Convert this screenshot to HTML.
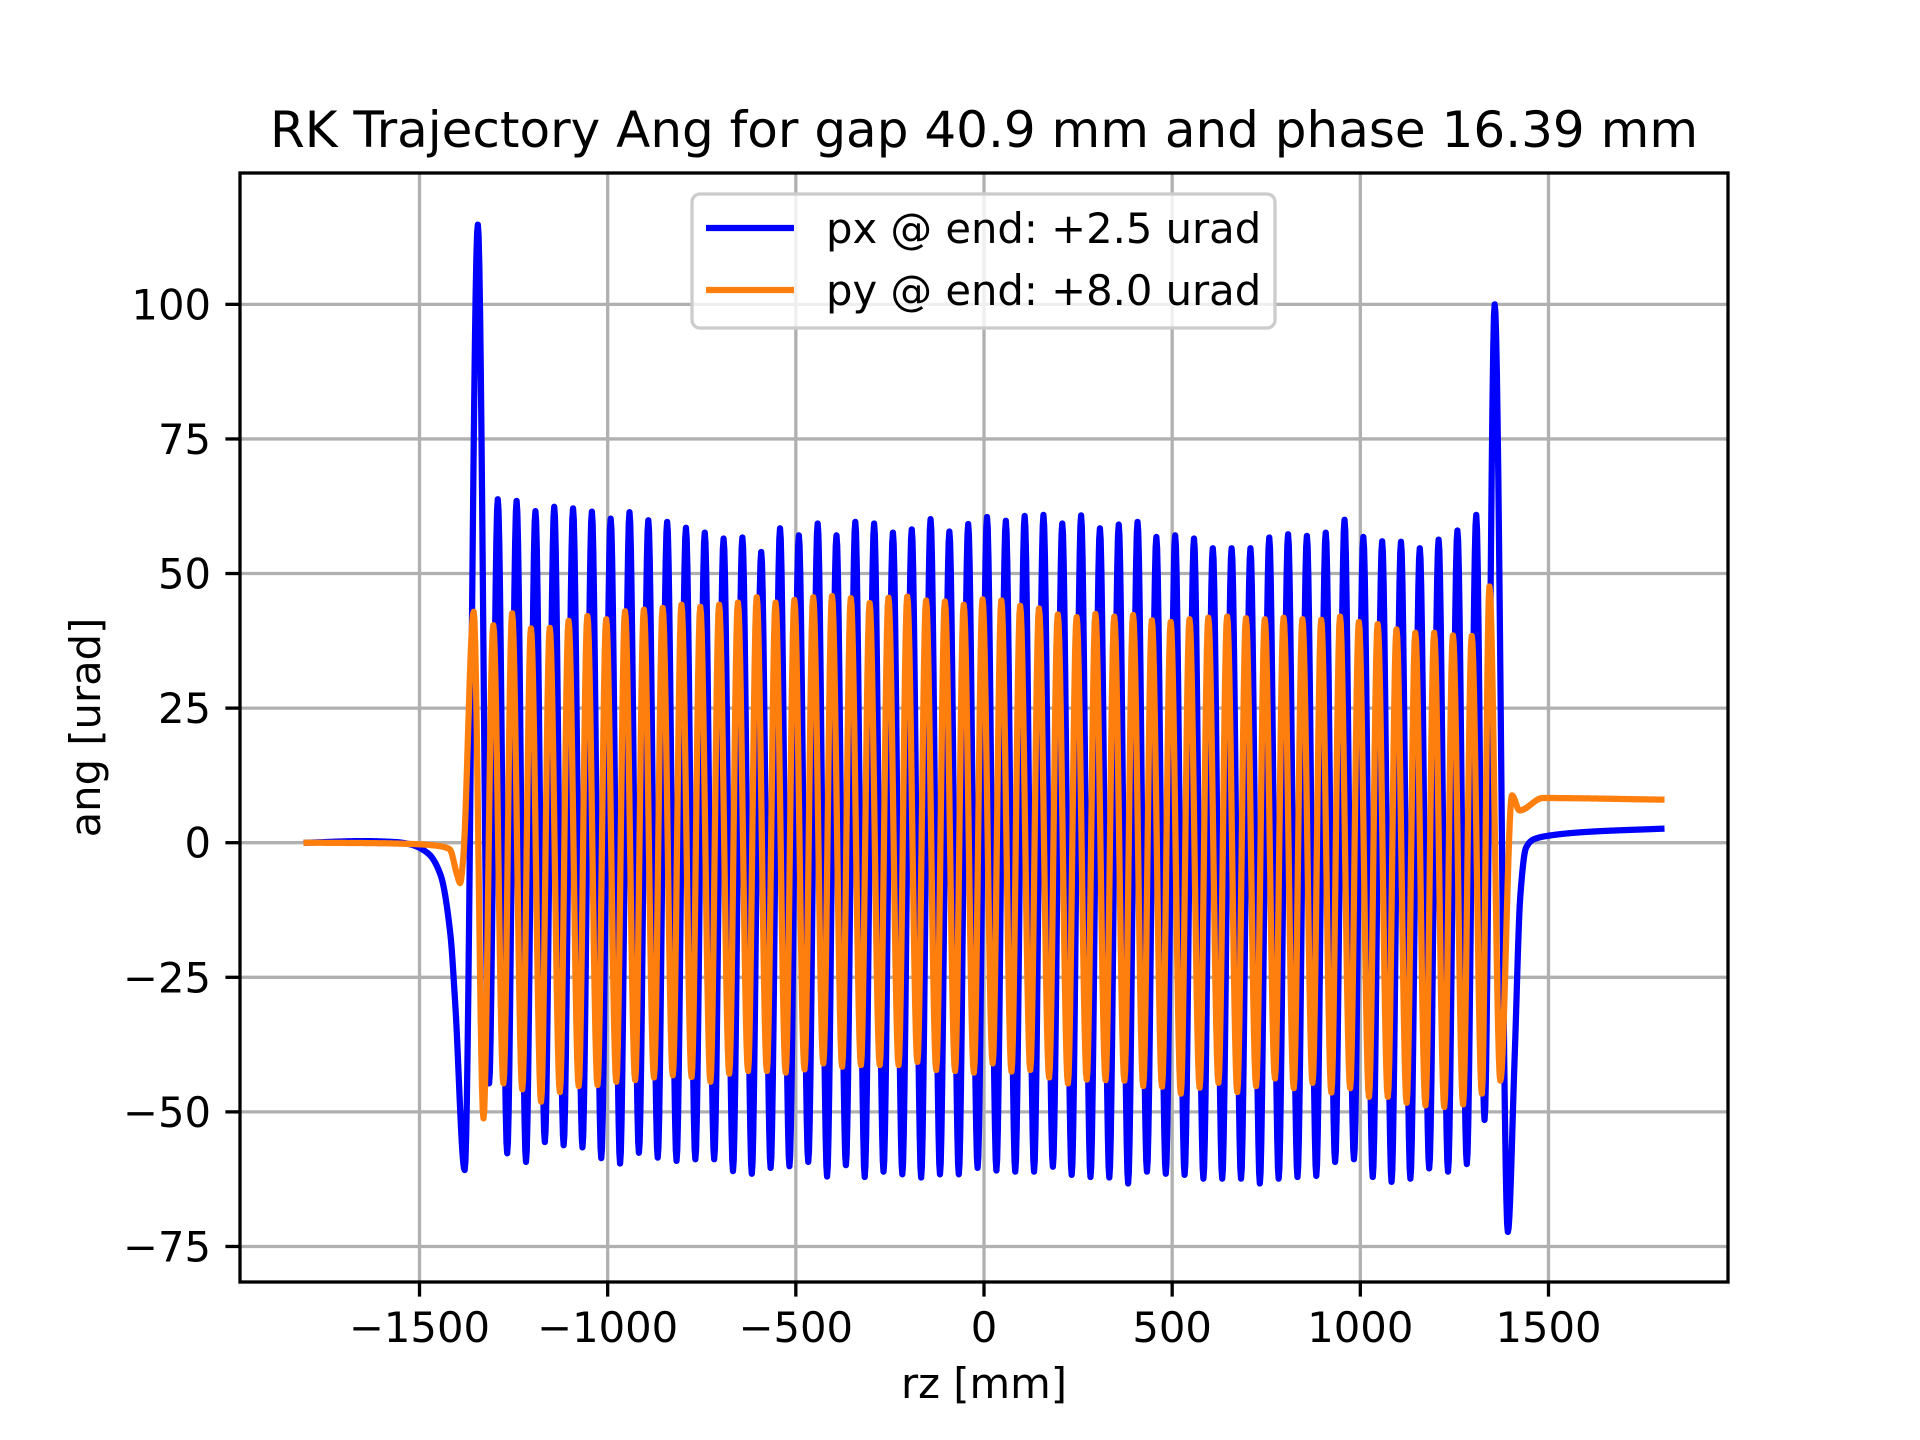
<!DOCTYPE html>
<html><head><meta charset="utf-8">
<style>
html,body{margin:0;padding:0;background:#fff;}
svg{display:block;font-family:"DejaVu Sans","Liberation Sans",sans-serif;}
</style></head>
<body>
<svg id="chart" width="1920" height="1440" viewBox="0 0 1920 1440" xmlns="http://www.w3.org/2000/svg">
<rect x="0" y="0" width="1920" height="1440" fill="#fff"/>
<g id="grid"></g>
<g id="plot"></g>
<g id="axes"></g>
<g id="legend"></g>
</svg>
<script>
// ---- data ----
const xTicks = [-1500,-1000,-500,0,500,1000,1500];
const yTicks = [-75,-50,-25,0,25,50,75,100];
const period = 50;
// px (blue) extrema
const pxTopStart = -1292;
const pxTops = [63.8,63.5,61.6,62.4,62.1,61.5,60.2,61.4,59.9,59.6,58.5,57.6,56.5,56.7,54.0,58.4,57.1,59.3,57.1,59.6,59.3,57.6,58.2,60.1,57.8,59.2,60.5,
 59.8,60.7,60.9,59.3,60.8,58.4,59.1,59.6,56.8,57.1,56.5,54.7,54.7,54.7,56.7,57.3,57.0,57.6,60.0,56.8,56.0,55.9,54.7,56.3,58.0,60.9];
const pxMinStart = -1267;
const pxMins = [-57.7,-59.3,-55.6,-56.2,-56.6,-58.6,-59.6,-57.6,-58.5,-59.1,-58.8,-58.8,-61.0,-61.5,-60.4,-60.1,-59.3,-62.0,-59.9,-62.1,-61.1,-61.6,-62.2,-61.6,-61.6,-60.4,-60.9,
 -61.1,-61.1,-60.2,-61.7,-62.1,-62.2,-63.3,-61.1,-61.5,-61.7,-62.4,-62.4,-62.4,-63.3,-62.4,-62.1,-61.9,-59.3,-58.8,-62.1,-63.0,-62.4,-60.5,-61.1,-59.7];
const pxLeadX = [-1800,-1650,-1560,-1525,-1477,-1444,-1418,-1405,-1380,-1345,-1315];
const pxLeadY = [0,0.3,0.1,-0.3,-2,-6,-17,-30,-60.8,114.8,-44.7];
const pxTailX = [1330,1357,1392,1410,1425,1440,1460,1500,1600,1800];
const pxTailY = [-51.5,100,-72.3,-40,-10,-1,0.6,1.3,2.0,2.6];
// py (orange) extrema
const pyTopStart = -1304;
const pyTops = [40.4,42.6,39.8,39.9,41.2,42.1,41.5,43.0,43.3,43.6,44.2,43.8,44.2,44.6,45.6,44.6,45.1,45.6,45.8,45.4,44.5,45.5,45.7,45.0,44.8,44.2,45.2,
 45.0,44.0,43.5,42.4,41.9,42.5,42.0,42.3,41.3,41.0,41.5,41.8,42.0,41.7,41.5,41.8,41.5,41.4,42.0,41.0,40.6,39.6,39.0,39.0,38.5,38.4];
const pyMinStart = -1277;
const pyMins = [-44.7,-45.8,-48.1,-46.3,-45.2,-45.0,-44.4,-44.1,-43.6,-43.2,-43.5,-44.4,-42.9,-42.4,-42.4,-42.7,-42.1,-41.0,-41.6,-41.3,-41.3,-41.3,-40.7,-42.2,-42.4,-42.7,-41.0,
 -42.5,-42.2,-43.6,-44.7,-44.0,-44.1,-44.2,-45.2,-45.3,-46.6,-45.5,-44.6,-46.3,-45.2,-43.8,-45.6,-44.6,-46.4,-45.6,-47.2,-47.2,-48.3,-48.8,-49.1,-48.6,-46.6];
const pyLeadX = [-1800,-1600,-1500,-1450,-1420,-1400,-1392,-1384,-1356,-1330];
const pyLeadY = [0,-0.1,-0.3,-0.6,-1.2,-6,-7.5,-3,42.9,-51.2];
const pyTailX = [1343,1372,1403,1423,1485,1800];
const pyTailY = [47.6,-44.2,8.8,6.0,8.3,8.0];

// ---- axes geometry ----
const L=240,R=1728,T=173,B=1282;
const xMin=-1977,xMax=1977,yMin=-81.6,yMax=124.4;
const sx=v=>L+(v-xMin)/(xMax-xMin)*(R-L);
const sy=v=>B-(v-yMin)/(yMax-yMin)*(B-T);
const NS="http://www.w3.org/2000/svg";
function mk(tag,attrs,parent){const e=document.createElementNS(NS,tag);for(const k in attrs)e.setAttribute(k,attrs[k]);parent.appendChild(e);return e;}
const fmt=v=>(v<0?"\u2212":"")+Math.abs(v);

const grid=document.getElementById('grid');
xTicks.forEach(v=>{
  const l=mk('line',{x1:sx(v),x2:sx(v),y1:T,y2:B,stroke:'#b0b0b0','stroke-width':3.3},grid);
  
  
});
yTicks.forEach(v=>{
  const l=mk('line',{x1:L,x2:R,y1:sy(v),y2:sy(v),stroke:'#b0b0b0','stroke-width':3.3},grid);
  
  
});

function buildKeys(leadX,leadY,topStart,tops,minStart,mins,tailX,tailY){
  const pts=[];
  leadX.forEach((x,i)=>pts.push([x,leadY[i]]));
  const mid=[];
  tops.forEach((v,i)=>mid.push([topStart+period*i,v]));
  mins.forEach((v,i)=>mid.push([minStart+period*i,v]));
  mid.sort((a,b)=>a[0]-b[0]);
  pts.push(...mid);
  tailX.forEach((x,i)=>pts.push([x,tailY[i]]));
  return pts;
}
function monotone(pts){
  const n=pts.length,d=[],m=new Array(n).fill(0);
  for(let i=0;i<n-1;i++)d.push((pts[i+1][1]-pts[i][1])/(pts[i+1][0]-pts[i][0]));
  m[0]=d[0];m[n-1]=d[n-2];
  for(let i=1;i<n-1;i++){
    if(d[i-1]*d[i]<=0)m[i]=0;
    else{const h0=pts[i][0]-pts[i-1][0],h1=pts[i+1][0]-pts[i][0];
      const w1=2*h1+h0,w2=h1+2*h0;m[i]=(w1+w2)/(w1/d[i-1]+w2/d[i]);}
  }
  const out=[];
  for(let i=0;i<n-1;i++){
    const x0=pts[i][0],x1=pts[i+1][0],y0=pts[i][1],y1=pts[i+1][1],h=x1-x0;
    const N=Math.max(4,Math.ceil(h/2));
    for(let k=0;k<N;k++){
      const t=k/N,t2=t*t,t3=t2*t;
      const y=(2*t3-3*t2+1)*y0+(t3-2*t2+t)*h*m[i]+(-2*t3+3*t2)*y1+(t3-t2)*h*m[i+1];
      out.push([x0+t*h,y]);
    }
  }
  out.push(pts[n-1]);
  return out;
}
const plot=document.getElementById('plot');
function drawSeries(pts,color,name){
  const c=monotone(pts);
  const d=c.map((p,i)=>(i?'L':'M')+sx(p[0]).toFixed(2)+' '+sy(p[1]).toFixed(2)).join('');
  const p=mk('path',{d:d,fill:'none',stroke:color,'stroke-width':6.25,'stroke-linejoin':'round','stroke-linecap':'square'},plot);
  
  
}
drawSeries(buildKeys(pxLeadX,pxLeadY,pxTopStart,pxTops,pxMinStart,pxMins,pxTailX,pxTailY),'#0000ff','px-line');
drawSeries(buildKeys(pyLeadX,pyLeadY,pyTopStart,pyTops,pyMinStart,pyMins,pyTailX,pyTailY),'#ff7f0e','py-line');

const axes=document.getElementById('axes');
const frame=mk('rect',{x:L,y:T,width:R-L,height:B-T,fill:'none',stroke:'#000','stroke-width':3.3},axes);


xTicks.forEach(v=>{
  const t=mk('line',{x1:sx(v),x2:sx(v),y1:B,y2:B+14.6,stroke:'#000','stroke-width':3.3},axes);
  
  
  const tx=mk('text',{x:sx(v),y:1342,'font-size':41.7,'text-anchor':'middle',fill:'#000'},axes);
  tx.textContent=fmt(v);
  
  
});
yTicks.forEach(v=>{
  const t=mk('line',{x1:L-14.6,x2:L,y1:sy(v),y2:sy(v),stroke:'#000','stroke-width':3.3},axes);
  
  
  const tx=mk('text',{x:L-29,y:sy(v)+15,'font-size':41.7,'text-anchor':'end',fill:'#000'},axes);
  tx.textContent=fmt(v);
  
  
});
const title=mk('text',{x:984,y:147,'font-size':50,'text-anchor':'middle',fill:'#000'},axes);
title.textContent='RK Trajectory Ang for gap 40.9 mm and phase 16.39 mm';


const xl=mk('text',{x:984,y:1398,'font-size':41.7,'text-anchor':'middle',fill:'#000'},axes);
xl.textContent='rz [mm]';


const yl=mk('text',{x:0,y:0,'font-size':41.7,'text-anchor':'middle',fill:'#000',transform:'translate(100 '+((T+B)/2)+') rotate(-90)'},axes);
yl.textContent='ang [urad]';



const lg=document.getElementById('legend');
const box=mk('rect',{x:692,y:194,width:583,height:134,rx:8,fill:'#fff','fill-opacity':0.8,stroke:'#cccccc','stroke-width':3.3},lg);


const entries=[['#0000ff','px @ end: +2.5 urad',228,'legend-entry-px'],['#ff7f0e','py @ end: +8.0 urad',290,'legend-entry-py']];
entries.forEach(e=>{
  const g=mk('g',{},lg);
  
  
  mk('line',{x1:706,x2:794,y1:e[2],y2:e[2],stroke:e[0],'stroke-width':6.25},g);
  const t=mk('text',{x:826,y:e[2]+15,'font-size':41.7,fill:'#000'},g);
  t.textContent=e[1];
});
</script>
</body></html>
